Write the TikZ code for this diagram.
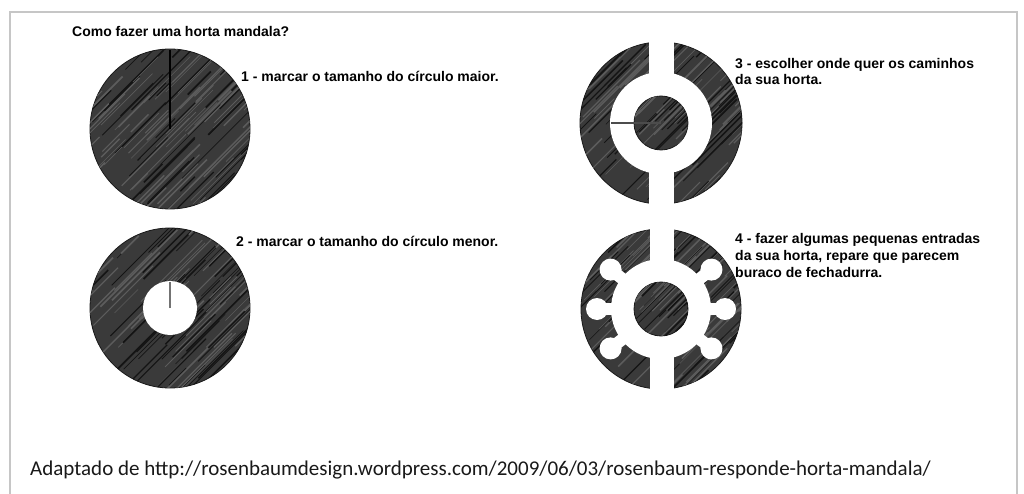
\documentclass[tikz,border=0pt]{standalone}
\usepackage{fontspec}
\setmainfont{Liberation Sans}
\newfontfamily\footfont{Carlito}
\definecolor{bedgray}{HTML}{3A3A3A}
\definecolor{framegray}{HTML}{C6C6C6}

\tikzset{
  bed/.style={fill=bedgray, draw=black!90, line width=0.8pt},
  walk/.style={fill=white},
  caption/.style={anchor=base west, inner sep=0pt, align=left,
    font=\bfseries\fontsize{14}{16.6}\selectfont},
}

% diagonal scratches inside a bed: centre x, centre y, radius
\newcommand{\bedstreaks}[3]{%
  \begin{scope}
    \clip (#1,#2) circle (#3);
    \pgfmathtruncatemacro{\stcount}{#3*1.6}
    \foreach \k in {1,...,\stcount}{
      \pgfmathsetmacro{\stoff}{rand*#3}
      \pgfmathsetmacro{\stpos}{rand*#3*1.2}
      \pgfmathsetmacro{\stlen}{20+rnd*90}
      \pgfmathsetmacro{\stwid}{0.5+rnd*1.2}
      \pgfmathtruncatemacro{\stshade}{rnd<0.55 ? 36 : 8}
      \draw[white!\stshade!black, line width=\stwid pt]
        ({#1+0.7071*(\stoff+\stpos)},{#2+0.7071*(\stoff-\stpos)})
        -- ++({0.7071*\stlen},{-0.7071*\stlen});
    }
  \end{scope}}

\begin{document}
\begin{tikzpicture}[x=1pt,y=-1pt]
  \pgfmathsetseed{42}
  \useasboundingbox (0,0) rectangle (1024,494);
  \fill[white] (0,0) rectangle (1024,494);
  \draw[framegray, line width=2pt] (10,494) -- (10,12) -- (1017,12) -- (1017,494);

  \node[caption] (title) at (72,36.5) {Como fazer uma horta mandala?};

  % 1 - big circle with its radius
  \coordinate (c1) at (170,129);
  \fill[bed] (c1) circle (80);
  \bedstreaks{170}{129}{80}
  \draw[black, line width=1.2pt] (c1) -- ++(0,-79);
  \node[caption] (lab1) at (241,82) {1 - marcar o tamanho do círculo maior.};

  % 2 - ring, small circle marked
  \coordinate (c2) at (170,308);
  \fill[bed] (c2) circle (80);
  \bedstreaks{170}{308}{80}
  \fill[walk] (c2) circle (27);
  \draw[black!55, line width=1.2pt] (c2) -- ++(0,-26);
  \node[caption] (lab2) at (236,246) {2 - marcar o tamanho do círculo menor.};

  % 3 - paths cut through the ring
  \coordinate (c3) at (661,123);
  \fill[bed] (c3) circle (81);
  \bedstreaks{661}{123}{81}
  \fill[walk] (c3) circle (51);
  \fill[walk] (649,35) rectangle (674,210);
  \fill[bed] (c3) circle (27);
  \bedstreaks{661}{123}{27}
  \coordinate (r3) at (611,123);
  \draw[black!70, line width=1.4pt] (r3) -- (c3);
  \node[caption] (lab3) at (735,85) {3 - escolher onde quer os caminhos\\da sua horta.};

  % 4 - keyhole entrances
  \coordinate (c4) at (661,309);
  \fill[bed] (c4) circle (80);
  \bedstreaks{661}{309}{80}
  \fill[walk] (c4) circle (50);
  \fill[walk] (650,220) rectangle (674,398);
  \foreach \a in {0,38,142,180,218,322}{
    \draw[white, line width=12pt] (c4) -- ++(\a:64);
    \fill[walk] (c4) ++(\a:64) circle (11);
  }
  \fill[bed] (c4) circle (27);
  \bedstreaks{661}{309}{27}
  \node[caption] (lab4) at (735,277)
    {4 - fazer algumas pequenas entradas\\da sua horta, repare que parecem\\buraco de fechadurra.};

  \node[anchor=base west, inner sep=0pt, font=\footfont\fontsize{21}{25}\selectfont, text=black!90]
    (source) at (30,475) {Adaptado de http://rosenbaumdesign.wordpress.com/2009/06/03/rosenbaum-responde-horta-mandala/};
\end{tikzpicture}
\end{document}
